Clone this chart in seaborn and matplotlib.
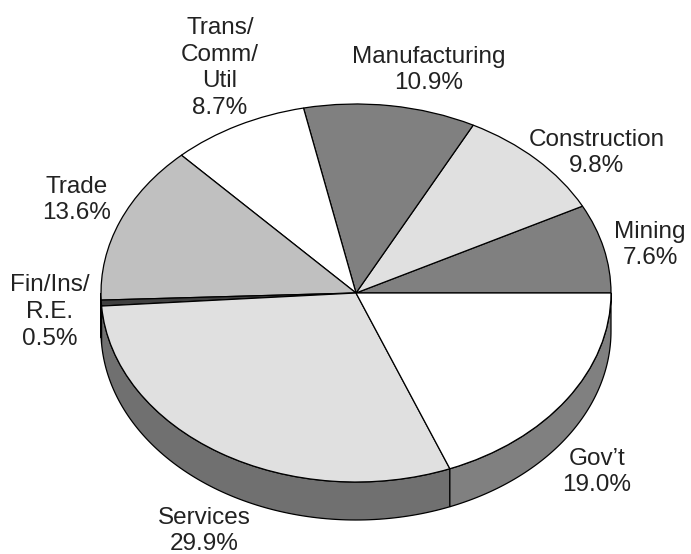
import numpy as np
import matplotlib
matplotlib.use("Agg")
import matplotlib.pyplot as plt
import seaborn as sns

sectors = ["Mining", "Construction", "Manufacturing", "Trans/\nComm/\nUtil",
           "Trade", "Fin/Ins/\nR.E.", "Services", "Gov\u2019t"]
shares = [7.6, 9.8, 10.9, 8.7, 13.6, 0.5, 29.9, 19.0]
top_colors = ["#808080", "#e0e0e0", "#808080", "#ffffff",
              "#c0c0c0", "#404040", "#e0e0e0", "#ffffff"]
side_colors = ["#606060", "#a8a8a8", "#606060", "#a0a0a0",
               "#909090", "#303030", "#707070", "#808080"]
# label centres in pixels of the 691x554 figure
label_pos = [(650, 245), (597, 153), (429, 70), (220, 68),
             (77, 200), (50, 312), (204, 531), (597, 472)]

sns.set_theme(style="white")
plt.rcParams["font.family"] = ["Liberation Sans", "DejaVu Sans"]

W, H = 691, 554
fig = plt.figure(figsize=(W / 100, H / 100), dpi=100)
ax = fig.add_axes([0, 0, 1, 1])

cx, cy, rx, ry = 356, 293, 255, 189
depth = 38 / ry

# side walls of the front half
bounds = np.concatenate([[0], np.cumsum(shares)]) / 100 * 360
for i in range(len(shares)):
    a0, a1 = max(bounds[i], 180), min(bounds[i + 1], 360)
    if a1 <= a0:
        continue
    t = np.radians(np.linspace(a0, a1, 100))
    xs = np.concatenate([np.cos(t), np.cos(t)[::-1]])
    ys = np.concatenate([np.sin(t), np.sin(t)[::-1] - depth])
    ax.fill(xs, ys, facecolor=side_colors[i], edgecolor="black",
            linewidth=0.9, zorder=1)

wedges, _ = ax.pie(shares, colors=top_colors, startangle=0, counterclock=True,
                   radius=1, center=(0, 0),
                   wedgeprops=dict(edgecolor="black", linewidth=0.9))
for w in wedges:
    w.set_zorder(2)

ax.set_aspect("auto")
ax.set_xlim(-cx / rx, (W - cx) / rx)
ax.set_ylim((cy - H) / ry, cy / ry)
ax.axis("off")

for name, val, (px, py) in zip(sectors, shares, label_pos):
    fig.text(px / W, 1 - py / H, f"{name}\n{val:.1f}%", ha="center", va="center",
             fontsize=17.5, color="#222222", linespacing=1.27)

fig.savefig("out.png", dpi=100, facecolor="white")
